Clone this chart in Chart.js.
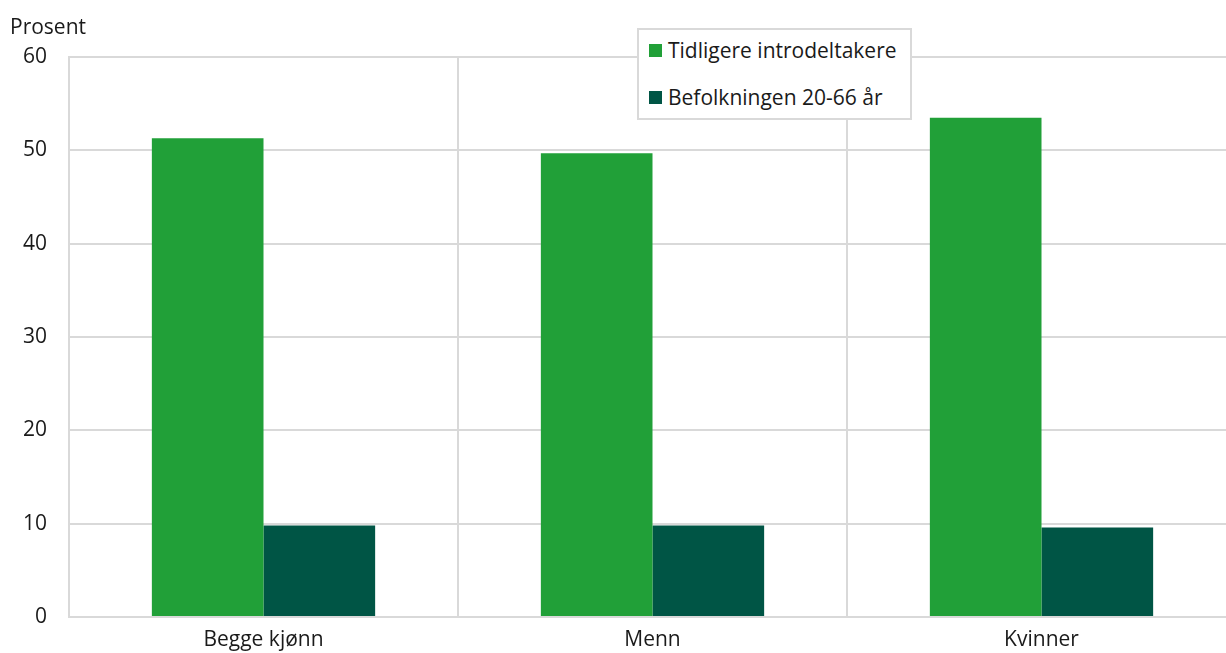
<!DOCTYPE html>
<html>
<head>
<meta charset="utf-8">
<script src="https://cdn.jsdelivr.net/npm/chart.js@4"></script>
<style>
  html, body { margin: 0; padding: 0; background: #fff; overflow: hidden; }
  #wrap { position: relative; width: 1226px; height: 653px; overflow: hidden; font-family: "Open Sans", sans-serif; color: #1a1a1a; }
  #chart { position: absolute; left: 0; top: 0; }
  #yTitle { position: absolute; left: 10px; top: 12px; font-size: 21px; line-height: 28px; }
  #legend { position: absolute; left: 637px; top: 28px; width: 271px; height: 88px; border: 2px solid #d9d9d9; background: #fff; z-index: 2; font-size: 21px; line-height: 28px; }
  .item { position: absolute; left: 10px; display: flex; align-items: center; white-space: nowrap; }
  .sw { width: 13px; height: 13px; margin-right: 6px; }
</style>
</head>
<body>
<div id="wrap">
  <!-- le canevas dépasse un peu à droite, comme dans l'original -->
  <canvas id="chart" width="1236" height="653"></canvas>
  <div id="yTitle">Prosent</div>
  <div id="legend"></div>
</div>
<script>
// Données
const categories = ['Begge kjønn', 'Menn', 'Kvinner'];
const seriesNames = ['Tidligere introdeltakere', 'Befolkningen 20-66 år'];
const introValues = [51.3, 49.7, 53.5];
const popValues = [9.8, 9.8, 9.6];
const seriesColors = ['#21a038', '#005545'];
const yTicks = [0, 10, 20, 30, 40, 50, 60];

const fontFamily = '"Open Sans", sans-serif';
const gridColor = '#d9d9d9';

// Légende HTML
const legend = document.getElementById('legend');
seriesNames.forEach((name, i) => {
    const item = document.createElement('div');
    item.className = 'item';
    item.style.top = (i === 0 ? 6 : 53) + 'px';
    item.innerHTML = `<span class="sw" style="background:${seriesColors[i]}"></span><span>${name}</span>`;
    legend.appendChild(item);
});

const ctx = document.getElementById('chart').getContext('2d');
new Chart(ctx, {
    type: 'bar',
    data: {
        labels: categories,
        datasets: [
            { label: seriesNames[0], data: introValues, backgroundColor: seriesColors[0] },
            { label: seriesNames[1], data: popValues, backgroundColor: seriesColors[1] }
        ]
    },
    options: {
        responsive: false,
        animation: false,
        categoryPercentage: 0.574,
        barPercentage: 1,
        layout: { padding: { top: 57, right: 0, left: 0, bottom: 0 } },
        plugins: {
            legend: { display: false },
            tooltip: { enabled: false }
        },
        scales: {
            x: {
                grid: { color: gridColor, lineWidth: 2, drawTicks: false, offset: true },
                border: { color: gridColor, width: 2 },
                ticks: { color: '#1a1a1a', font: { family: fontFamily, size: 21 }, padding: 10 },
                afterFit: (scale) => { scale.height = 36; }
            },
            y: {
                min: 0,
                max: 60,
                afterBuildTicks: (scale) => { scale.ticks = yTicks.map(v => ({ value: v })); },
                grid: { color: gridColor, lineWidth: 2, drawTicks: false },
                border: { color: gridColor, width: 2 },
                ticks: { color: '#1a1a1a', font: { family: fontFamily, size: 21 }, padding: 22 },
                afterFit: (scale) => { scale.width = 69; }
            }
        }
    }
});
</script>
</body>
</html>
